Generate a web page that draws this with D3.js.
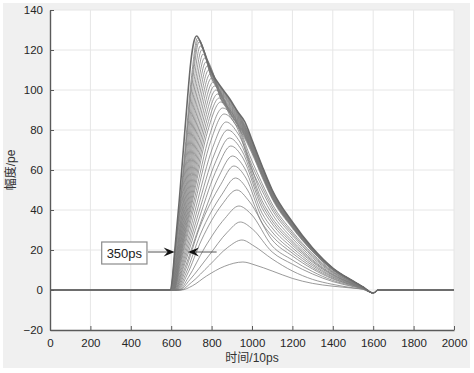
<!DOCTYPE html>
<html>
<head>
<meta charset="utf-8">
<script src="https://cdn.jsdelivr.net/npm/d3@7"></script>
<style>
  body { margin: 0; background: #fff; }
  text { font-family: "Liberation Sans", Arial, "Noto Sans CJK SC", sans-serif; }
</style>
</head>
<body>
<div id="chart"></div>
<script>
// pulse curves: [time (10ps), amplitude (pe)]
const p14 = [[0,0],[650,0],[705,2.1],[775,7],[865,11.9],[955,14],[1015,12.5],[1100,9.5],[1200,5.8],[1300,3.3],[1400,1.9],[1500,0.9],[1550,0.3],[1600,-1.5],[1625,0],[2000,0]];
const p25 = [[0,0],[646,0],[700,3.75],[790,12.5],[880,21.3],[950,25],[1010,22],[1100,15.5],[1200,9.5],[1300,5.3],[1400,2.8],[1500,1.1],[1550,0.4],[1600,-1.5],[1625,0],[2000,0]];
const p34 = [[0,0],[642,0],[692,5.1],[785,17],[878,28.9],[942,34],[1002,30.5],[1100,19],[1200,12.9],[1300,8],[1400,4.2],[1500,1.7],[1550,0.6],[1600,-1.5],[1625,0],[2000,0]];
const p42 = [[0,0],[639,0],[685,6.3],[765,21],[865,35.7],[935,42],[995,38],[1100,22],[1200,15],[1300,9.2],[1400,4.8],[1500,2],[1550,0.7],[1600,-1.5],[1625,0],[2000,0]];
const p50 = [[0,0],[635,0],[678,7.5],[750,25],[850,42.5],[925,50],[985,44.5],[1100,25],[1200,17],[1300,10.5],[1400,5.5],[1500,2.3],[1550,0.8],[1600,-1.5],[1625,0],[2000,0]];
const p56 = [[0,0],[631,0],[673,8.4],[745,28],[850,47.6],[918,56],[978,50],[1050,33.5],[1100,27],[1200,18.4],[1300,11.3],[1400,5.9],[1500,2.4],[1550,0.8],[1600,-1.5],[1625,0],[2000,0]];
const p62 = [[0,0],[628,0],[668,9.3],[740,31],[845,52.7],[910,62],[970,56],[1050,36],[1100,29],[1200,19.7],[1300,12.2],[1400,6.4],[1500,2.6],[1550,0.9],[1600,-1.5],[1625,0],[2000,0]];
const p67 = [[0,0],[625,0],[664,10],[745,33.5],[837,57],[903,67],[963,61],[1050,38.4],[1100,31],[1200,21.1],[1300,13],[1400,6.8],[1500,2.8],[1550,0.9],[1600,-1.5],[1625,0],[2000,0]];
const p72 = [[0,0],[623,0],[660,10.8],[739,36],[829,61.2],[895,72],[955,66],[1050,40.9],[1100,33],[1200,22.4],[1300,13.9],[1400,7.3],[1500,3],[1550,1],[1600,-1.5],[1625,0],[2000,0]];
const p76 = [[0,0],[621,0],[657,11.4],[734,38],[822,64.6],[888,76],[948,70],[1050,42.8],[1100,34.5],[1200,23.5],[1300,14.5],[1400,7.6],[1500,3.1],[1550,1],[1600,-1.5],[1625,0],[2000,0]];
const p80 = [[0,0],[619,0],[654,12],[729,40],[814,68],[880,80],[940,74],[1050,44.6],[1100,36],[1200,24.5],[1300,15.1],[1400,7.9],[1500,3.2],[1550,1.1],[1600,-1.5],[1625,0],[2000,0]];
const p84 = [[0,0],[617,0],[651,12.6],[724,42],[806,71.4],[872,84],[932,78],[1050,47.1],[1100,38],[1200,25.8],[1300,16],[1400,8.4],[1500,3.4],[1550,1.1],[1600,-1.5],[1625,0],[2000,0]];
const p88 = [[0,0],[615,0],[648,13.2],[719,44],[797,74.8],[862,88],[922,82],[1000,60],[1050,49.6],[1100,40],[1200,27.2],[1300,16.8],[1400,8.8],[1500,3.6],[1550,1.2],[1600,-1.5],[1625,0],[2000,0]];
const p91 = [[0,0],[614,0],[646,13.7],[715,45.5],[790,77.4],[855,91],[915,85],[1000,62.3],[1050,51.5],[1100,41.5],[1200,28.2],[1300,17.4],[1400,9.1],[1500,3.7],[1550,1.2],[1600,-1.5],[1625,0],[2000,0]];
const p94 = [[0,0],[613,0],[644,14.1],[711,47],[782,79.9],[845,94],[905,88],[1000,64.5],[1050,53.3],[1100,43],[1200,29.2],[1300,18.1],[1400,9.5],[1500,3.9],[1550,1.3],[1600,-1.5],[1625,0],[2000,0]];
const p96 = [[0,0],[612,0],[642,14.4],[708,48],[777,81.6],[838,96],[900,85.5],[950,78.3],[1000,68.3],[1050,56.4],[1100,45.5],[1200,30.9],[1300,19.1],[1400,10],[1500,4.1],[1550,1.4],[1600,-1.5],[1625,0],[2000,0]];
const p98 = [[0,0],[611,0],[641,14.7],[705,49],[772,83.3],[830,98],[900,86.5],[950,79.1],[1000,69],[1050,57],[1100,46],[1200,31.3],[1300,19.3],[1400,10.1],[1500,4.1],[1550,1.4],[1600,-1.5],[1625,0],[2000,0]];
const p100 = [[0,0],[610,0],[639,15],[702,50],[767,85],[822,100],[900,87],[950,79.6],[1000,69.4],[1050,57.4],[1100,46.3],[1200,31.5],[1300,19.4],[1400,10.2],[1500,4.2],[1550,1.4],[1600,-1.5],[1625,0],[2000,0]];
const p102 = [[0,0],[609,0],[638,15.3],[699,51],[762,86.7],[815,102],[900,87.4],[950,80],[1000,69.8],[1050,57.7],[1100,46.5],[1200,31.6],[1300,19.5],[1400,10.2],[1500,4.2],[1550,1.4],[1600,-1.5],[1625,0],[2000,0]];
const p104 = [[0,0],[608,0],[636,15.6],[696,52],[757,88.4],[808,104],[850,94.4],[900,87.9],[950,80.4],[1000,70.1],[1050,58],[1100,46.8],[1200,31.8],[1300,19.6],[1400,10.3],[1500,4.2],[1550,1.4],[1600,-1.5],[1625,0],[2000,0]];
const p106 = [[0,0],[607,0],[635,15.9],[693,53],[752,90.1],[800,106],[850,94.9],[900,88.4],[950,80.8],[1000,70.5],[1050,58.3],[1100,47],[1200,32],[1300,19.7],[1400,10.3],[1500,4.2],[1550,1.4],[1600,-1.5],[1625,0],[2000,0]];
const p108 = [[0,0],[606,0],[633,16.2],[690,54],[747,91.8],[793,108],[850,95.4],[900,88.8],[950,81.3],[1000,70.9],[1050,58.6],[1100,47.3],[1200,32.1],[1300,19.8],[1400,10.4],[1500,4.3],[1550,1.4],[1600,-1.5],[1625,0],[2000,0]];
const p110 = [[0,0],[605,0],[632,16.5],[687,55],[742,93.5],[786,110],[850,96],[900,89.3],[950,81.7],[1000,71.3],[1050,58.9],[1100,47.5],[1200,32.3],[1300,20],[1400,10.5],[1500,4.3],[1550,1.4],[1600,-1.5],[1625,0],[2000,0]];
const p112 = [[0,0],[604,0],[630,16.8],[684,56],[737,95.2],[779,112],[850,96.5],[900,89.8],[950,82.1],[1000,71.6],[1050,59.2],[1100,47.8],[1200,32.5],[1300,20.1],[1400,10.5],[1500,4.3],[1550,1.4],[1600,-1.5],[1625,0],[2000,0]];
const p114 = [[0,0],[603,0],[629,17.1],[681,57],[732,96.9],[772,114],[850,97],[900,90.2],[950,82.6],[1000,72],[1050,59.5],[1100,48],[1200,32.6],[1300,20.2],[1400,10.6],[1500,4.3],[1550,1.4],[1600,-1.5],[1625,0],[2000,0]];
const p116 = [[0,0],[602,0],[627,17.4],[678,58],[727,98.6],[765,116],[850,97.5],[900,90.7],[950,83],[1000,72.4],[1050,59.8],[1100,48.3],[1200,32.8],[1300,20.3],[1400,10.6],[1500,4.3],[1550,1.4],[1600,-1.5],[1625,0],[2000,0]];
const p118 = [[0,0],[601,0],[626,17.7],[675,59],[722,100.3],[758,118],[800,105.7],[850,98],[900,91.2],[950,83.4],[1000,72.8],[1050,60.1],[1100,48.5],[1200,33],[1300,20.4],[1400,10.7],[1500,4.4],[1550,1.5],[1600,-1.5],[1625,0],[2000,0]];
const p120 = [[0,0],[600,0],[624,18],[672,60],[717,102],[751,120],[800,106.3],[850,98.5],[900,91.7],[950,83.9],[1000,73.1],[1050,60.5],[1100,48.8],[1200,33.2],[1300,20.5],[1400,10.7],[1500,4.4],[1550,1.5],[1600,-1.5],[1625,0],[2000,0]];
const p122 = [[0,0],[599,0],[622,18.3],[669,61],[712,103.7],[744,122],[800,106.8],[850,99],[900,92.1],[950,84.3],[1000,73.5],[1050,60.8],[1100,49],[1200,33.3],[1300,20.6],[1400,10.8],[1500,4.4],[1550,1.5],[1600,-1.5],[1625,0],[2000,0]];
const p124 = [[0,0],[598,0],[620,18.6],[666,62],[707,105.4],[738,124],[800,107.4],[850,99.5],[900,92.6],[950,84.7],[1000,73.9],[1050,61.1],[1100,49.3],[1200,33.5],[1300,20.7],[1400,10.8],[1500,4.4],[1550,1.5],[1600,-1.5],[1625,0],[2000,0]];
const p125 = [[0,0],[597,0],[619,18.8],[664,62.5],[704,106.3],[734,125],[800,107.9],[850,100],[900,93.1],[950,85.1],[1000,74.3],[1050,61.4],[1100,49.5],[1200,33.7],[1300,20.8],[1400,10.9],[1500,4.5],[1550,1.5],[1600,-1.5],[1625,0],[2000,0]];
const p126 = [[0,0],[596,0],[618,18.9],[662,63],[701,107.1],[730,126],[800,108.5],[850,100.5],[900,93.5],[950,85.6],[1000,74.6],[1050,61.7],[1100,49.8],[1200,33.8],[1300,20.9],[1400,10.9],[1500,4.5],[1550,1.5],[1600,-1.5],[1625,0],[2000,0]];
const p127 = [[0,0],[595,0],[606,6],[617,19],[640,45],[660,70],[680,95],[697,114],[712,124],[726,127],[760,120],[800,109],[850,101],[890,95.5],[930,89],[965,84],[1000,75],[1050,62],[1100,50],[1200,34],[1300,21],[1400,11],[1500,4.5],[1550,1.5],[1600,-1.5],[1625,0],[2000,0]];

const pulses = [p14, p25, p34, p42, p50, p56, p62, p67, p72, p76, p80, p84, p88, p91, p94,
  p96, p98, p100, p102, p104, p106, p108, p110, p112, p114, p116, p118, p120, p122, p124, p125, p126];

const xTicks = [0, 200, 400, 600, 800, 1000, 1200, 1400, 1600, 1800, 2000];
const yTicks = [-20, 0, 20, 40, 60, 80, 100, 120, 140];

// 350ps annotation: arrow tails and tips, box corners (data units)
const arrowLevel = 19;
const leftArrow = [485, 617];   // tail, tip
const rightArrow = [825, 683];  // tail, tip
const gapBox = [256, 480, 24, 13];  // x0, x1, yTop, yBottom
const gapLabel = "350ps";

const width = 474, height = 373;
const svg = d3.select("#chart").append("svg")
  .attr("width", width)
  .attr("height", height);

// figure background
svg.append("rect")
  .attr("x", 3).attr("y", 3)
  .attr("width", 467).attr("height", 365)
  .attr("fill", "#f0f0f0");

const x = d3.scaleLinear().domain([0, 2000]).range([50, 454]);
const y = d3.scaleLinear().domain([-20, 140]).range([330, 10]);

svg.append("rect")
  .attr("x", x(0)).attr("y", y(140))
  .attr("width", x(2000) - x(0)).attr("height", y(-20) - y(140))
  .attr("fill", "#fff");

/* grid */
svg.append("g").selectAll("line")
  .data(xTicks.slice(1))
  .join("line")
  .attr("x1", d => x(d)).attr("x2", d => x(d))
  .attr("y1", y(-20)).attr("y2", y(140))
  .attr("stroke", "#e6e6e6").attr("stroke-width", 1);
svg.append("g").selectAll("line")
  .data(yTicks.slice(1))
  .join("line")
  .attr("x1", x(0)).attr("x2", x(2000))
  .attr("y1", d => y(d)).attr("y2", d => y(d))
  .attr("stroke", "#e6e6e6").attr("stroke-width", 1);

/* pulses */
const line = d3.line()
  .x(d => x(d[0]))
  .y(d => y(d[1]))
  .curve(d3.curveMonotoneX);

svg.append("g")
  .selectAll("path")
  .data(pulses)
  .join("path")
  .attr("d", line)
  .attr("fill", "none")
  .attr("stroke", "#7a7a7a")
  .attr("stroke-opacity", 0.85)
  .attr("stroke-width", 0.9);

svg.append("path")
  .attr("d", line(p127))
  .attr("fill", "none")
  .attr("stroke", "#6a6a6a")
  .attr("stroke-width", 1.6);

/* axes */
const xAxis = d3.axisBottom(x).tickValues(xTicks).tickFormat(d3.format("d"))
  .tickSizeInner(-4).tickSizeOuter(0).tickPadding(9);
const yAxis = d3.axisLeft(y).tickValues(yTicks).tickFormat(d3.format("d"))
  .tickSizeInner(-4).tickSizeOuter(0).tickPadding(7);

const gx = svg.append("g").attr("transform", `translate(0,${y(-20)})`).call(xAxis);
const gy = svg.append("g").attr("transform", `translate(${x(0)},0)`).call(yAxis);
[gx, gy].forEach(g => {
  g.select(".domain").attr("stroke", "#5a5a5a").attr("stroke-width", 1.4);
  g.selectAll(".tick line").attr("stroke", "#5a5a5a");
  g.selectAll(".tick text")
    .attr("fill", "#262626")
    .style("font-size", "11.5px")
    .style("font-family", "'Liberation Sans', Arial, sans-serif");
});

svg.append("text")
  .attr("x", 252).attr("y", 362)
  .attr("text-anchor", "middle")
  .attr("fill", "#333")
  .style("font-size", "12px")
  .text("时间/10ps");

svg.append("text")
  .attr("transform", `translate(15,${y(60)}) rotate(-90)`)
  .attr("text-anchor", "middle")
  .attr("fill", "#333")
  .style("font-size", "12px")
  .text("幅度/pe");

/* annotation */
svg.append("rect")
  .attr("x", x(gapBox[0])).attr("y", y(gapBox[2]))
  .attr("width", x(gapBox[1]) - x(gapBox[0]))
  .attr("height", y(gapBox[3]) - y(gapBox[2]))
  .attr("fill", "#fff")
  .attr("stroke", "#8a8a8a")
  .attr("stroke-width", 1.2);
svg.append("text")
  .attr("x", (x(gapBox[0]) + x(gapBox[1])) / 2)
  .attr("y", (y(gapBox[2]) + y(gapBox[3])) / 2 + 4.5)
  .attr("text-anchor", "middle")
  .attr("fill", "#222")
  .style("font-size", "13px")
  .text(gapLabel);

function arrow(tail, tip) {
  const dir = tip > tail ? 1 : -1;
  const tx = x(tip), ty = y(arrowLevel);
  svg.append("line")
    .attr("x1", x(tail)).attr("x2", tx - dir * 6)
    .attr("y1", ty).attr("y2", ty)
    .attr("stroke", "#555").attr("stroke-width", 1);
  svg.append("path")
    .attr("d", `M${tx},${ty} L${tx - dir * 11},${ty - 4.5} L${tx - dir * 7},${ty} L${tx - dir * 11},${ty + 4.5} Z`)
    .attr("fill", "#111");
}
arrow(leftArrow[0], leftArrow[1]);
arrow(rightArrow[0], rightArrow[1]);
</script>
</body>
</html>
